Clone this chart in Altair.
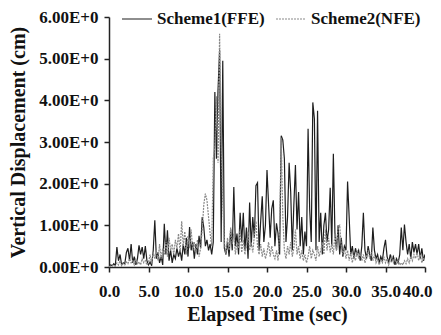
import altair as alt
import pandas as pd

# time step 0.2 s, 0 .. 40 s
scheme1 = [
    0.02, 0.05, 0.03, 0.08, 0.04,
    0.48, 0.15, 0.30, 0.05, 0.10,
    0.08, 0.35, 0.45, 0.15, 0.55,
    0.10, 0.25, 0.05, 0.20, 0.52,
    0.30, 0.48, 0.20, 0.50, 0.15,
    0.05, 0.12, 0.03, 0.40, 1.12,
    0.20, 0.35, 0.10, 0.25, 0.05,
    1.04, 0.30, 0.88, 0.15, 0.40,
    0.10, 0.30, 0.20, 0.45, 0.25,
    0.40, 0.15, 0.55, 0.30, 0.70,
    0.25, 0.96, 0.40, 0.60, 0.20,
    0.55, 0.30, 0.75, 0.45, 1.20,
    0.95, 0.50, 0.65, 0.40, 0.55,
    0.30, 0.60, 4.20, 2.60, 4.25,
    5.20, 0.60, 4.95, 0.45, 0.30,
    0.60, 0.25, 0.90, 0.40, 1.92,
    0.50, 0.80, 0.30, 1.30, 0.60,
    1.30, 0.40, 0.95, 0.20, 1.55,
    0.50, 1.20, 0.70, 1.95, 2.02,
    0.40, 1.10, 1.70, 0.60, 1.00,
    2.33, 1.50, 0.70, 1.40, 1.60,
    0.50, 1.05, 0.80, 0.30, 3.15,
    3.05, 2.60, 0.60, 1.20, 2.50,
    1.80, 0.40, 1.50, 2.45, 0.90,
    1.80, 0.50, 1.20, 0.30, 0.85,
    0.50, 3.32, 1.40, 0.60, 3.95,
    3.55, 0.40, 3.75, 0.60, 1.30,
    0.30, 1.00, 1.30, 0.60, 0.90,
    1.90, 0.50, 2.72, 0.80, 0.40,
    1.00, 0.30, 0.70, 0.25, 0.50,
    0.40, 2.05, 1.20, 0.30, 0.50,
    0.20, 0.45, 0.30, 0.40, 0.15,
    0.50, 1.30, 0.40, 0.20, 0.50,
    0.30, 0.15, 0.95, 0.40, 0.20,
    0.30, 0.10, 0.25, 0.15, 0.45,
    0.65, 0.25, 0.10, 0.30, 0.15,
    0.25, 0.05, 0.20, 0.10, 0.30,
    0.95, 0.40, 1.02, 0.60, 0.30,
    0.55, 0.20, 0.60, 0.35, 0.55,
    0.30, 0.55, 0.20, 0.45, 0.15,
    0.30,
]

scheme2 = [
    0.01, 0.02, 0.05, 0.02, 0.03,
    0.10, 0.05, 0.15, 0.03, 0.08,
    0.05, 0.12, 0.08, 0.20, 0.10,
    0.15, 0.05, 0.18, 0.08, 0.12,
    0.05, 0.20, 0.10, 0.15, 0.05,
    0.10, 0.30, 0.08, 0.35, 0.20,
    0.40, 0.15, 0.55, 0.20, 0.45,
    0.30, 0.60, 0.25, 0.70, 0.40,
    0.55, 0.30, 0.65, 0.45, 0.80,
    0.35, 1.10, 0.50, 0.85, 0.30,
    0.75, 0.45, 0.90, 0.40, 0.60,
    0.35, 0.65, 0.25, 0.45, 0.90,
    1.50, 1.76, 1.60, 1.20, 0.80,
    0.50, 2.60, 2.90, 4.10, 2.50,
    5.60, 3.00, 1.50, 0.60, 0.30,
    0.70, 0.40, 0.95, 0.55, 0.80,
    0.30, 0.60, 0.45, 0.90, 0.35,
    0.65, 0.30, 0.50, 0.85, 0.40,
    0.60, 0.35, 0.75, 1.10, 0.50,
    0.30, 0.55, 0.25, 0.45, 0.20,
    0.35, 0.60, 0.25, 0.50, 0.30,
    0.20, 0.40, 0.15, 0.90, 3.10,
    1.20, 0.40, 0.20, 0.50, 0.30,
    0.60, 0.25, 0.45, 0.90, 0.30,
    0.50, 0.20, 0.40, 0.15, 0.30,
    0.10, 0.25, 0.50, 0.20, 0.40,
    0.30, 0.15, 0.50, 0.25, 0.40,
    0.60, 0.30, 0.90, 0.40, 0.70,
    0.35, 0.55, 0.30, 0.80, 0.40,
    0.95, 1.00, 0.50, 0.30, 0.45,
    0.20, 0.40, 0.15, 0.35, 0.10,
    0.30, 0.15, 0.40, 0.20, 0.35,
    0.15, 0.30, 0.10, 0.25, 0.40,
    0.20, 0.35, 0.15, 0.30, 0.10,
    0.20, 0.05, 0.15, 0.10, 0.25,
    0.10, 0.20, 0.05, 0.15, 0.25,
    0.10, 0.20, 0.08, 0.15, 0.05,
    0.10, 0.05, 0.15, 0.08, 0.20,
    0.10, 0.25, 0.15, 0.30, 0.20,
    0.35, 0.15, 0.30, 0.10, 0.20,
    0.15,
]

series_names = ["Scheme1(FFE)", "Scheme2(NFE)"]
x_ticks = [0, 5, 10, 15, 20, 25, 30, 35, 40]
y_ticks = [0, 1, 2, 3, 4, 5, 6]

times = [round(i * 0.2, 1) for i in range(len(scheme1))]
rows = []
for name, vals in zip(series_names, [scheme1, scheme2]):
    for t, v in zip(times, vals):
        rows.append({"time": t, "disp": v, "series": name})
df = pd.DataFrame(rows)

FONT = "Times New Roman"

legend_opts = dict(title=None, orient="none", legendX=12, legendY=-14,
                   direction="horizontal", symbolType="stroke",
                   symbolSize=900, symbolStrokeWidth=1.2,
                   labelFont=FONT, labelFontSize=17, labelFontWeight="bold",
                   labelColor="#111", columnPadding=8, labelOffset=4)

axis_font = dict(labelFont=FONT, labelFontSize=17, labelFontWeight="bold", labelColor="#111",
                 titleFont=FONT, titleFontSize=20, titleFontWeight="bold", titleColor="#111")

chart = alt.Chart(df).mark_line(strokeWidth=1.2, clip=True).encode(
    x=alt.X("time:Q", scale=alt.Scale(domain=[0, 40], nice=False),
            axis=alt.Axis(values=x_ticks, format=".1f", title="Elapsed Time (sec)",
                          grid=False, tickSize=5, labelPadding=11, titlePadding=5,
                          labelOverlap=False, labelFlush=False,
                          labelAlign={"condition": {"test": "datum.value >= 40", "value": "right"},
                                      "value": "center"},
                          labelOffset={"condition": {"test": "datum.value >= 40", "value": 7},
                                       "value": 0},
                          **axis_font)),
    y=alt.Y("disp:Q", scale=alt.Scale(domain=[0, 6], nice=False),
            axis=alt.Axis(values=y_ticks, labelExpr="format(datum.value, '.2f') + 'E+0'",
                          title="Vertical Displacement (cm)", grid=False, tickSize=5,
                          labelPadding=6, titlePadding=10, labelOverlap=False,
                          labelFlush=False, **axis_font)),
    color=alt.Color("series:N", scale=alt.Scale(domain=series_names, range=["#1e1e1e", "#8a8a8a"]),
                    legend=alt.Legend(**legend_opts)),
    strokeDash=alt.StrokeDash("series:N", scale=alt.Scale(domain=series_names, range=[[1, 0], [2, 1]]),
                              legend=alt.Legend(**legend_opts)),
).properties(
    width=316, height=250,
    autosize=alt.AutoSizeParams(type="none"),
    padding={"left": 101, "top": 9, "right": 8, "bottom": 60},
).configure(font=FONT).configure_view(stroke=None).configure_axis(
    domainColor="#222", domainWidth=1.5, tickColor="#222", tickWidth=1.5,
)

chart.save("out.html", embed_options={"renderer": "svg", "actions": False})
